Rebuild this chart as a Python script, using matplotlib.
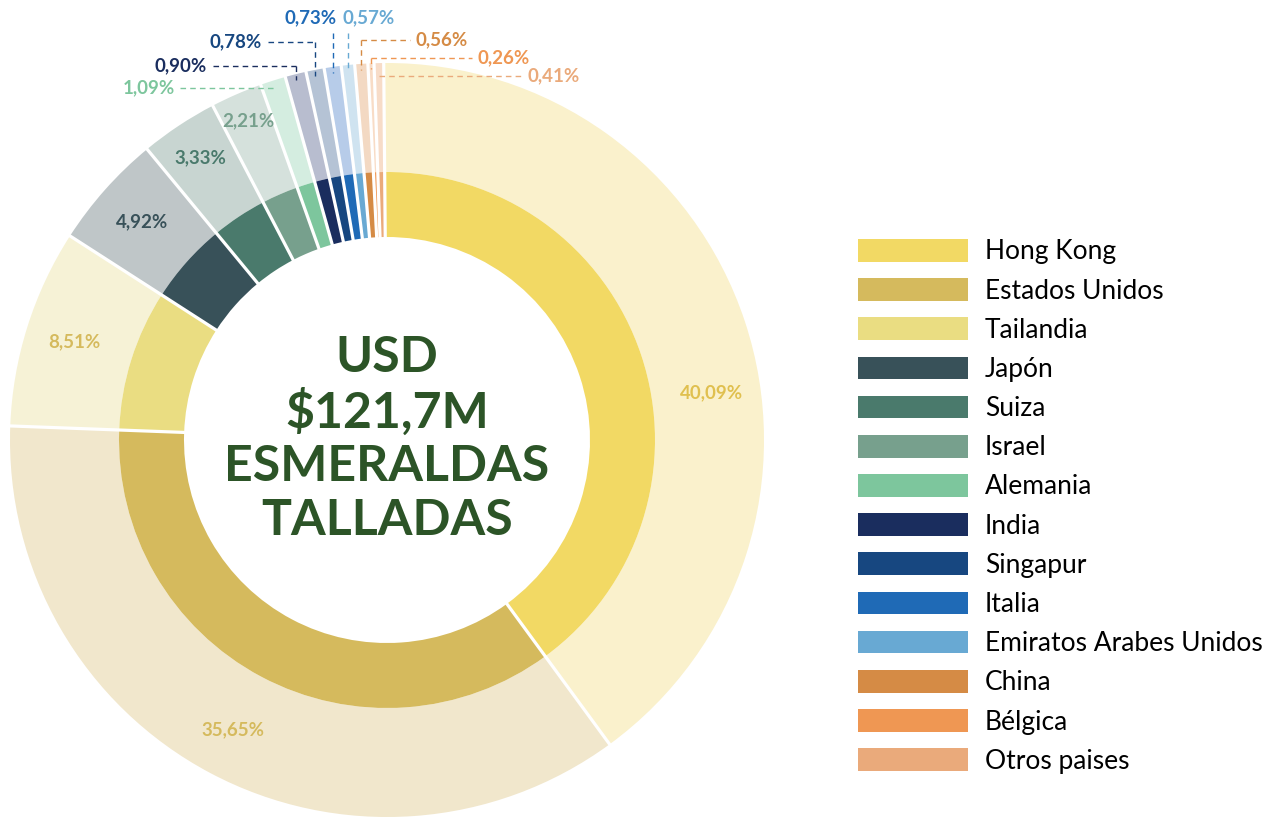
import numpy as np
import matplotlib.pyplot as plt
from matplotlib.patches import Patch

# data
countries = ["Hong Kong", "Estados Unidos", "Tailandia", "Japón", "Suiza", "Israel",
             "Alemania", "India", "Singapur", "Italia", "Emiratos Arabes Unidos",
             "China", "Bélgica", "Otros paises"]
shares = [40.09, 35.65, 8.51, 4.92, 3.33, 2.21, 1.09, 0.90, 0.78, 0.73, 0.57, 0.56, 0.26, 0.41]
share_labels = ["40,09%", "35,65%", "8,51%", "4,92%", "3,33%", "2,21%", "1,09%", "0,90%",
                "0,78%", "0,73%", "0,57%", "0,56%", "0,26%", "0,41%"]
inner_colors = ["#F2D964", "#D5BA5D", "#EADD82", "#385159", "#4A7A6C", "#77A08D", "#7DC69D",
                "#1A2D5E", "#174780", "#1F6AB6", "#68A9D3", "#D58B45", "#EF9753", "#EAAA7B"]
outer_colors = ["#FAF1CC", "#F1E7CC", "#F6F2D6", "#BFC6C8", "#C8D5D1", "#D5E1DC", "#D4EDE0",
                "#B8BDCF", "#B5C3D5", "#B7CCE9", "#CFE3F0", "#F3D9C3", "#F8DCC6", "#F7DCC8"]
label_colors = ["#E0C04F", "#D5BA5D", "#D5BA5D", "#385159", "#4A7A6C", "#77A08D", "#7DC69D",
                "#1A2D5E", "#174780", "#1F6AB6", "#68A9D3", "#D58B45", "#EF9753", "#EAAA7B"]
center_lines = ["USD", "$121,7M", "ESMERALDAS", "TALLADAS"]

W, H = 1279, 822
fig = plt.figure(figsize=(W / 100, H / 100), dpi=100)
ax = fig.add_axes([0, 0, 1, 1])

cx, cy = 387, H - 440          # centre in data (pixel) units
R_out, R_mid, R_in = 377, 268, 203

outer, _ = ax.pie(shares, radius=R_out, center=(cx, cy), startangle=90.5, counterclock=False,
                  colors=outer_colors, wedgeprops=dict(width=R_out - R_mid, linewidth=0))
inner, _ = ax.pie(shares, radius=R_mid, center=(cx, cy), startangle=90.5, counterclock=False,
                  colors=inner_colors, wedgeprops=dict(width=R_mid - R_in, linewidth=0))

# white radial separators across both rings
for w in inner:
    a = np.radians(w.theta1)
    ax.plot([cx + (R_in - 2) * np.cos(a), cx + (R_out + 3) * np.cos(a)],
            [cy + (R_in - 2) * np.sin(a), cy + (R_out + 3) * np.sin(a)],
            color="white", lw=2.3, solid_capstyle="butt")

ax.set_xlim(0, W)
ax.set_ylim(0, H)
ax.set_aspect("equal")
ax.axis("off")

lab_font = dict(fontfamily="Lato", fontweight="bold", fontsize=13.5)

# labels inside the outer ring for the big slices
shift = {0: -10}
for i in range(6):
    w = outer[i]
    ang = np.radians((w.theta1 + w.theta2) / 2 + shift.get(i, 0))
    r = 328 if i < 4 else 338 + (i - 4) * 10
    ax.text(cx + r * np.cos(ang), cy + r * np.sin(ang), share_labels[i], color=label_colors[i],
            ha="center", va="center", **lab_font)


def mid_x(i):
    w = outer[i]
    ang = np.radians((w.theta1 + w.theta2) / 2)
    return cx + R_out * np.cos(ang), ang


def ring_top(x):
    return cy + np.sqrt(R_out ** 2 - (x - cx) ** 2) - 6


# leader-line labels for the small slices: (index, text y in px from top, mode, text x)
small = [(6, 88, "hl", 175), (7, 66, "el", 207), (8, 42, "el", 262),
         (9, 18, "vr", None), (10, 18, "vl", None),
         (11, 40, "er", 416), (12, 58, "er", 478), (13, 76, "hr", 527)]
for i, ypx, mode, xt in small:
    y = H - ypx
    col = label_colors[i]
    ls = dict(color=col, lw=1, ls=(0, (4, 3)))
    xm, ang = mid_x(i)
    if mode[0] == "h":
        xr = cx + (y - cy) / np.tan(ang)
        if mode == "hl":
            ax.plot([xt + 5, xr], [y, y], **ls)
            ax.text(xt, y, share_labels[i], color=col, ha="right", va="center", **lab_font)
        else:
            ax.plot([xr, xt - 5], [y, y], **ls)
            ax.text(xt, y, share_labels[i], color=col, ha="left", va="center", **lab_font)
    elif mode[0] == "e":
        ax.plot([xm, xm], [y, ring_top(xm)], **ls)
        if mode == "el":
            ax.plot([xt + 6, xm], [y, y], **ls)
            ax.text(xt, y, share_labels[i], color=col, ha="right", va="center", **lab_font)
        else:
            ax.plot([xm, xt - 6], [y, y], **ls)
            ax.text(xt, y, share_labels[i], color=col, ha="left", va="center", **lab_font)
    else:
        ax.plot([xm, xm], [y - 15, ring_top(xm)], **ls)
        if mode == "vr":
            ax.text(xm + 4, y, share_labels[i], color=col, ha="right", va="center", **lab_font)
        else:
            ax.text(xm - 5, y, share_labels[i], color=col, ha="left", va="center", **lab_font)

# centre text
for k, line in enumerate(center_lines):
    ax.text(cx, H - (357 + k * 54.5), line, color="#2C5427", fontfamily="Lato",
            fontweight="bold", fontsize=36, ha="center", va="center")

handles = [Patch(facecolor=c, edgecolor="none") for c in inner_colors]
ax.legend(handles, countries, loc="upper left", bbox_to_anchor=(858 / W, 1 - 239 / H),
          frameon=False, prop=dict(family="Lato", size=19), handlelength=4.17,
          handleheight=0.95, handletextpad=0.64, labelspacing=0.52, borderpad=0,
          borderaxespad=0)

fig.savefig("out.png", dpi=100)
